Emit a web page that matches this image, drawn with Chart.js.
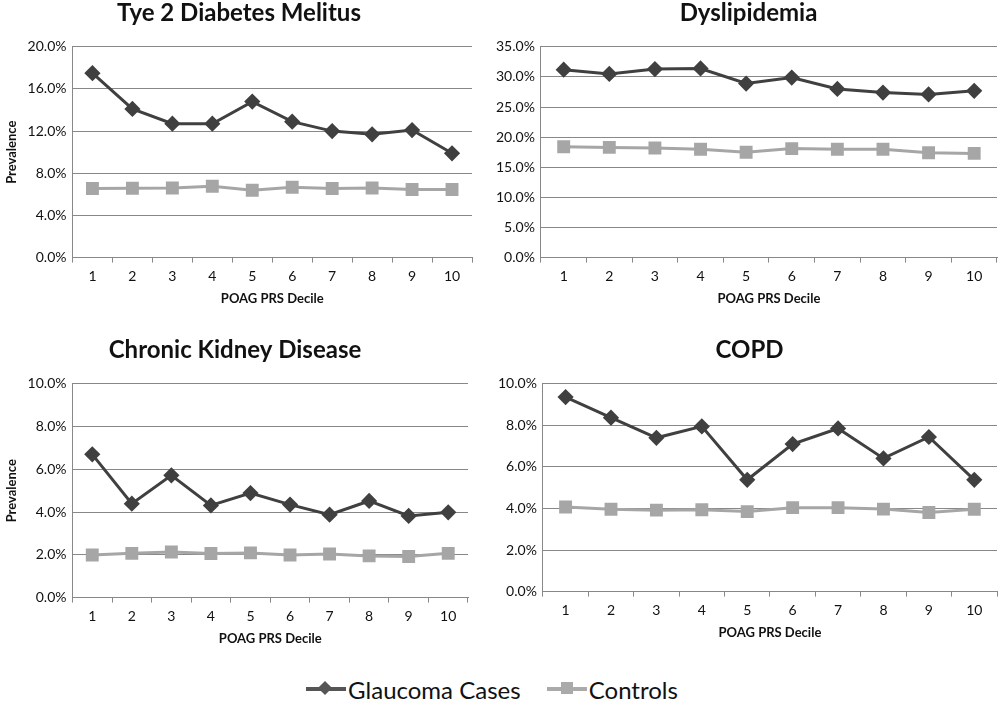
<!DOCTYPE html>
<html>
<head>
<meta charset="utf-8">
<script src="https://cdn.jsdelivr.net/npm/chart.js@4/dist/chart.umd.min.js"></script>
<style>
  body { margin: 0; background: #fff; font-family: Lato, 'Open Sans', sans-serif; overflow: hidden; }
  .wrap { position: relative; width: 1000px; height: 712px; overflow: hidden; }
  .panel { position: absolute; }
  .legend { position: absolute; top: 667px; left: -8px; width: 1000px; text-align: center; font-size: 24px; color: #111; }
  .legend span.item { display: inline-flex; align-items: center; margin: 0 6px; }
  .legend .line { position: relative; width: 40px; height: 4px; margin-right: 2px; }
  .legend .mark { position: absolute; left: 14px; top: -4px; width: 10px; height: 10px; }
</style>
</head>
<body>
<div class="wrap">
  <div class="panel" style="left:0;top:-1px;width:482px;height:312px"><canvas id="t2d"></canvas></div>
  <div class="panel" style="left:490px;top:-1px;width:517px;height:312px"><canvas id="dys"></canvas></div>
  <div class="panel" style="left:0;top:336px;width:478px;height:315px"><canvas id="ckd"></canvas></div>
  <div class="panel" style="left:492px;top:336px;width:515px;height:309px"><canvas id="copd"></canvas></div>
  <div class="legend">
    <span class="item"><span class="line" style="background:#555"><span class="mark" style="background:#555;transform:rotate(45deg)"></span></span>Glaucoma Cases</span>
    <span class="item" style="margin-left:14px"><span class="line" style="background:#aaa"><span class="mark" style="background:#aaa;top:-5px;width:12px;height:12px"></span></span>Controls</span>
  </div>
</div>
<script>
const deciles = ['1', '2', '3', '4', '5', '6', '7', '8', '9', '10']

// prevalence in %
const t2dCases = [17.5, 14.1, 12.7, 12.7, 14.8, 12.9, 12.0, 11.7, 12.1, 9.9]
const t2dControls = [6.55, 6.58, 6.61, 6.77, 6.39, 6.68, 6.55, 6.61, 6.46, 6.46]

const dysCases = [31.2, 30.5, 31.3, 31.4, 28.9, 29.9, 28.0, 27.4, 27.1, 27.7]
const dysControls = [18.4, 18.3, 18.2, 18.0, 17.5, 18.1, 18.0, 18.0, 17.4, 17.3]

const ckdCases = [6.70, 4.39, 5.72, 4.31, 4.89, 4.35, 3.88, 4.52, 3.82, 3.99]
const ckdControls = [1.99, 2.07, 2.13, 2.06, 2.09, 1.99, 2.04, 1.95, 1.92, 2.07]

const copdCases = [9.36, 8.37, 7.40, 7.95, 5.38, 7.10, 7.85, 6.41, 7.44, 5.38]
const copdControls = [4.07, 3.96, 3.92, 3.94, 3.85, 4.04, 4.04, 3.97, 3.81, 3.96]

const font = "Lato, 'Open Sans', sans-serif"

function makeChart(id, title, cases, controls, max, step, showYTitle, pad) {
    new Chart(document.getElementById(id), {
        type: 'line',
        data: {
            labels: deciles,
            datasets: [{
                label: 'Glaucoma Cases',
                data: cases,
                borderColor: '#404040',
                backgroundColor: '#404040',
                borderWidth: 3,
                pointStyle: 'rectRot',
                pointRadius: 6,
                pointHoverRadius: 6,
                tension: 0
            }, {
                label: 'Controls',
                data: controls,
                borderColor: '#a6a6a6',
                backgroundColor: '#a6a6a6',
                borderWidth: 3,
                pointStyle: 'rect',
                pointRadius: 7,
                pointHoverRadius: 7,
                tension: 0
            }]
        },
        options: {
            responsive: true,
            maintainAspectRatio: false,
            animation: false,
            layout: { padding: pad },
            plugins: {
                legend: { display: false },
                tooltip: { enabled: false },
                title: {
                    display: true,
                    text: title,
                    color: '#111',
                    font: { family: font, size: 24, weight: 'bold' },
                    padding: { top: 0, bottom: 19 }
                }
            },
            scales: {
                x: {
                    offset: true,
                    grid: { offset: true, drawOnChartArea: false, color: '#888', tickLength: 5 },
                    border: { color: '#888', width: 1 },
                    ticks: { color: '#111', font: { family: font, size: 14 }, padding: 5 },
                    title: {
                        display: true,
                        text: 'POAG PRS Decile',
                        color: '#111',
                        font: { family: font, size: 13, weight: 'bold' },
                        padding: { top: 2 }
                    }
                },
                y: {
                    min: 0,
                    max: max,
                    ticks: {
                        stepSize: step,
                        color: '#111',
                        font: { family: font, size: 14 },
                        padding: 6,
                        callback: v => v.toFixed(1) + '%'
                    },
                    grid: { color: '#888', drawTicks: false },
                    border: { color: '#888', width: 1 },
                    title: {
                        display: showYTitle,
                        text: 'Prevalence',
                        color: '#111',
                        font: { family: font, size: 13, weight: 'bold' },
                        padding: { bottom: 2 }
                    }
                }
            }
        }
    })
}

makeChart('t2d', 'Tye 2 Diabetes Melitus', t2dCases, t2dControls, 20, 4, true, { left: 0, right: 4, top: 0 })
makeChart('dys', 'Dyslipidemia', dysCases, dysControls, 35, 5, false, { left: 0, right: 0, top: 0 })
makeChart('ckd', 'Chronic Kidney Disease', ckdCases, ckdControls, 10, 2, true, { left: 0, right: 8, top: 0 })
makeChart('copd', 'COPD', copdCases, copdControls, 10, 2, false, { left: 0, right: 0, top: 0 })
</script>
</body>
</html>
